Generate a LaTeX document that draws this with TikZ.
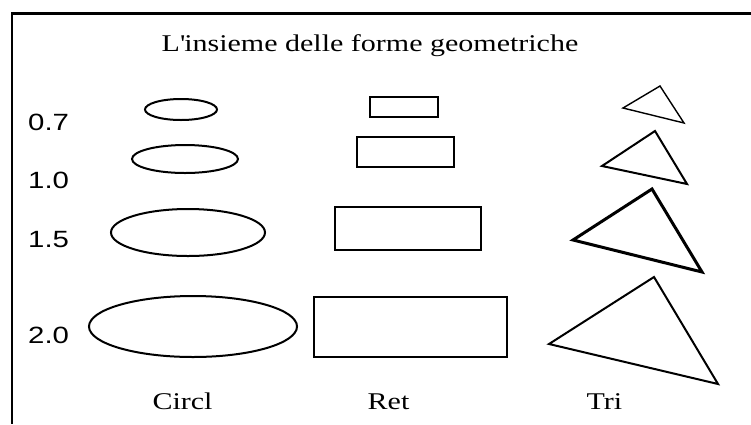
\documentclass[tikz,border=0pt]{standalone}
\usepackage{fontspec}
\setmainfont{Liberation Serif}[FakeStretch=1.25]
\newfontfamily\rowvaluefont{Liberation Sans}[FakeStretch=1.25]
\usepackage{tikz}
\usetikzlibrary{shapes.geometric}

\tikzset{
  shapeline/.style={draw, line width=2pt},
  oval/.style={shapeline, ellipse, inner sep=0pt},
  box/.style={shapeline, rectangle, inner sep=0pt},
  tri/.style={draw, line width=#1},
  lab/.style={inner sep=0pt, anchor=base, font=\fontsize{24}{28}\selectfont},
  rowval/.style={inner sep=0pt, anchor=base west, font=\rowvaluefont\fontsize{23.5}{28}\selectfont},
}

\begin{document}
\begin{tikzpicture}[x=1pt, y=-1pt]
\useasboundingbox (0,0) rectangle (751,424);
\draw[line width=2.3pt] (751,13.5) -- (12,13.5) -- (12,424);

\node[lab] (title) at (370,51) {L\textquotesingle insieme delle forme geometriche};

% scale factors
\node[rowval] (s07) at (28,130) {0.7};
\node[rowval] (s10) at (28,188) {1.0};
\node[rowval] (s15) at (28,247) {1.5};
\node[rowval] (s20) at (28,343) {2.0};

% ellipses
\node[oval, minimum width=72pt, minimum height=21pt] (c07) at (181,109.5) {};
\node[oval, minimum width=106pt, minimum height=28pt] (c10) at (185,159) {};
\node[oval, minimum width=154pt, minimum height=47pt] (c15) at (188,232.5) {};
\node[oval, minimum width=208pt, minimum height=61pt] (c20) at (193,326.5) {};

% rectangles
\node[box, minimum width=68pt, minimum height=20pt] (r07) at (404,107) {};
\node[box, minimum width=97pt, minimum height=30pt] (r10) at (405.5,152) {};
\node[box, minimum width=146pt, minimum height=43pt] (r15) at (408,228.5) {};
\node[box, minimum width=193pt, minimum height=60pt] (r20) at (410.5,327) {};

% triangles
\draw[tri=1.4pt] (623,108) -- (660,86) -- (684,123) -- cycle;
\draw[tri=2pt] (602,166) -- (655,131) -- (687,184) -- cycle;
\draw[tri=3pt] (573,240) -- (652,189) -- (702,272) -- cycle;
\draw[tri=2pt] (549,344) -- (654,277) -- (718,384) -- cycle;

\node[lab] (circl) at (182.5,409) {Circl};
\node[lab] (ret) at (388.5,409) {Ret};
\node[lab] (tri) at (604.5,409) {Tri};
\end{tikzpicture}
\end{document}
